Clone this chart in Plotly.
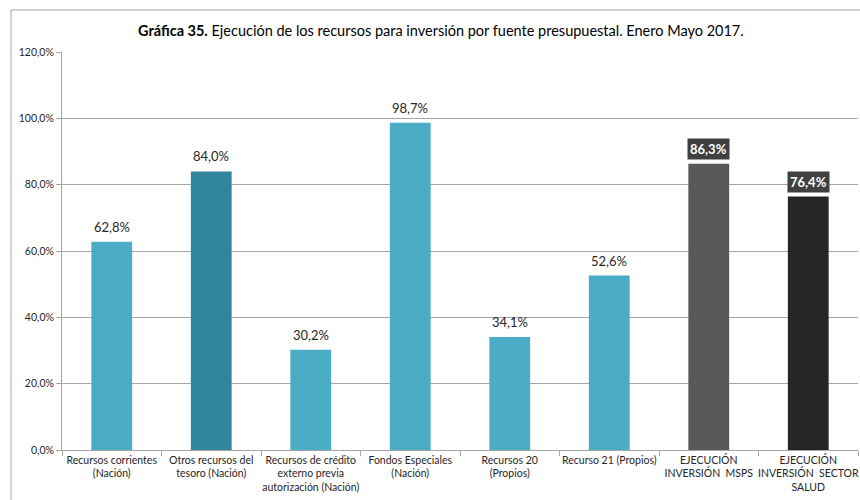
import plotly.graph_objects as go

# Execution of investment resources by budget source, Jan–May 2017
categories = [
    "Recursos corrientes<br>(Nación)",
    "Otros recursos del<br>tesoro (Nación)",
    "Recursos de crédito<br>externo previa<br>autorización (Nación)",
    "Fondos Especiales<br>(Nación)",
    "Recursos 20<br>(Propios)",
    "Recurso 21 (Propios)",
    "EJECUCIÓN<br>INVERSIÓN  MSPS",
    "EJECUCIÓN<br>INVERSIÓN  SECTOR<br>SALUD",
]
values = [62.8, 84.0, 30.2, 98.7, 34.1, 52.6, 86.3, 76.4]
bar_colors = ["#4BACC6", "#31859C", "#4BACC6", "#4BACC6",
              "#4BACC6", "#4BACC6", "#595959", "#262626"]
boxed = [False, False, False, False, False, False, True, True]
y_ticks = [0, 20, 40, 60, 80, 100, 120]

FONT = "Lato"
GRID = "#A6A6A6"

fig = go.Figure(go.Bar(
    x=categories, y=values,
    marker=dict(color=bar_colors, line=dict(width=0)),
    width=0.41,
    hoverinfo="skip",
))

def fmt(v):
    return f"{v:.1f}%".replace(".", ",")

annotations = []
for c, v, b in zip(categories, values, boxed):
    if b:
        annotations.append(dict(
            x=c, y=v, xref="x", yref="y", text=f"<b>{fmt(v)}</b>",
            showarrow=False, yanchor="bottom", yshift=4,
            font=dict(family=FONT, size=13, color="white"),
            bgcolor="#404040", borderpad=2,
        ))
    else:
        annotations.append(dict(
            x=c, y=v, xref="x", yref="y", text=fmt(v),
            showarrow=False, yanchor="bottom", yshift=5,
            font=dict(family=FONT, size=13, color="#262626"),
        ))

annotations.append(dict(
    x=0.476, y=1.055, xref="paper", yref="paper",
    text="<b>Gráfica 35.</b> Ejecución de los recursos para inversión por fuente presupuestal. Enero Mayo 2017.",
    showarrow=False, xanchor="center", yanchor="middle",
    font=dict(family=FONT, size=14.5, color="#000000"),
))

fig.update_layout(
    width=860, height=500,
    margin=dict(l=62, r=2, t=52, b=50, autoexpand=False),
    paper_bgcolor="white", plot_bgcolor="white",
    showlegend=False,
    separators=",.",
    annotations=annotations,
    shapes=[dict(
        type="rect", xref="paper", yref="paper",
        x0=-0.064, x1=1.2, y0=-0.3, y1=1.1055,
        line=dict(color=GRID, width=1), fillcolor="rgba(0,0,0,0)",
        layer="below",
    )],
    xaxis=dict(
        type="category", tickson="boundaries", tickangle=0,
        automargin=False,
        ticks="outside", ticklen=5, tickcolor=GRID,
        showline=True, linecolor=GRID, linewidth=1,
        showgrid=False,
        tickfont=dict(family=FONT, size=10.5, color="#262626"),
        range=[-0.5, 7.5],
    ),
    yaxis=dict(
        range=[0, 120], tickvals=y_ticks, automargin=False,
        ticktext=[f"{t:.1f}%".replace(".", ",") for t in y_ticks],
        ticks="outside", ticklen=5, tickcolor=GRID,
        showline=True, linecolor=GRID, linewidth=1,
        showgrid=True, gridcolor=GRID, gridwidth=1,
        zeroline=False,
        tickfont=dict(family=FONT, size=10.5, color="#262626"),
    ),
    bargap=0.59,
)

fig.write_html("out.html")
